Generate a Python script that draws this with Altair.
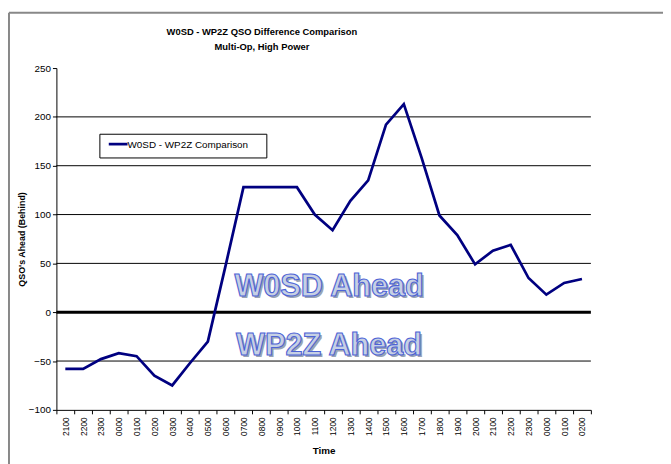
import altair as alt
import pandas as pd

# ---- data ----
time_labels = ["2100", "2200", "2300", "0000", "0100", "0200", "0300", "0400", "0500", "0600",
               "0700", "0800", "0900", "1000", "1100", "1200", "1300", "1400", "1500", "1600",
               "1700", "1800", "1900", "2000", "2100", "2200", "2300", "0000", "0100", "0200"]
diff_values = [-58, -58, -48, -42, -45, -65, -75, -52, -30, 48,
               128, 128, 128, 128, 100, 84, 114, 135, 192, 213,
               158, 99, 79, 49, 63, 69, 35, 18, 30, 34]
series_name = "W0SD - WP2Z Comparison"
title_line1 = "W0SD - WP2Z QSO Difference Comparison"
title_line2 = "Multi-Op, High Power"
y_ticks = [-100, -50, 0, 50, 100, 150, 200, 250]
grid_values = [-50, 50, 100, 150, 200]
ann_text = ["W0SD Ahead", "WP2Z Ahead"]
ann_y = [17, -44]

keys = [f"{i:02d}|{t}" for i, t in enumerate(time_labels)]
df = pd.DataFrame({"key": keys, "value": diff_values})
grid_df = pd.DataFrame({"value": grid_values})
zero_df = pd.DataFrame({"value": [0]})
ann_df = pd.DataFrame({"t": ann_text, "value": ann_y})
one = pd.DataFrame({"k": [0]})

W, H = 541, 346
BASE = "Liberation Sans"
NAVY = "#000080"

xscale = alt.Scale(type="band", paddingInner=0, paddingOuter=0, domain=keys)
yscale = alt.Scale(domain=[-100, 250], nice=False, zero=False)
yaxis = alt.Axis(
    title="QSO's Ahead (Behind)", titleFont=BASE, titleFontSize=9,
    titleFontWeight="bold", titleColor="black", titlePadding=2,
    values=y_ticks, labelFont=BASE, labelFontSize=10, labelColor="black",
    labelPadding=2, tickSize=4, tickColor="black", domainColor="black",
    grid=False,
)

x_enc = alt.X(
    "key:O", scale=xscale, sort=keys, bandPosition=0.5,
    axis=alt.Axis(
        title="Time", titleFont=BASE, titleFontSize=10, titleFontWeight="bold",
        titleColor="black", titlePadding=10,
        labelExpr="split(datum.value, '|')[1]", labelAngle=-90, labelFont=BASE,
        labelFontSize=8.5, labelColor="black", labelPadding=3,
        tickBand="extent", tickSize=4, tickColor="black", domainColor="black",
        domainWidth=1, grid=False, labelOverlap=False,
    ),
)
y_enc = alt.Y("value:Q", scale=yscale, axis=yaxis)

grid = alt.Chart(grid_df).mark_rule(color="black", strokeWidth=1).encode(y=y_enc)
zero = alt.Chart(zero_df).mark_rule(color="black", strokeWidth=3).encode(y=y_enc)

line = alt.Chart(df).mark_line(strokeWidth=2.75, color=NAVY).encode(x=x_enc, y=y_enc)

ann_shadow = alt.Chart(ann_df).mark_text(
    font=BASE, fontSize=31, fontWeight="bold", align="center",
    baseline="alphabetic", color="#9aa3b5", dx=2, dy=2,
).encode(x=alt.value(276), y=y_enc, text="t:N")
ann = alt.Chart(ann_df).mark_text(
    font=BASE, fontSize=31, fontWeight="bold", align="center",
    baseline="alphabetic", color="#c6d0e4", stroke="#4d63d6", strokeWidth=1.1,
).encode(x=alt.value(276), y=y_enc, text="t:N")

# legend box (decoration)
leg_df = pd.DataFrame({"label": [series_name]})
leg_box = alt.Chart(leg_df).mark_rect(fill="white", stroke="black", strokeWidth=1).encode(
    x=alt.value(44), x2=alt.value(213), y=alt.value(67), y2=alt.value(91)
)
leg_line = alt.Chart(leg_df).mark_rule(color=NAVY, strokeWidth=2.75).encode(
    x=alt.value(53), x2=alt.value(72), y=alt.value(77)
)
leg_text = alt.Chart(leg_df).mark_text(
    font=BASE, fontSize=10, align="left", baseline="middle", color="black"
).encode(x=alt.value(72), y=alt.value(78), text="label:N")

# title (two lines)
title_df = pd.DataFrame({"l1": [title_line1], "l2": [title_line2]})
title1 = alt.Chart(title_df).mark_text(
    font=BASE, fontSize=9.5, fontWeight="bold", align="center",
    baseline="alphabetic", color="black",
).encode(x=alt.value(208), y=alt.value(-33), text="l1:N")
title2 = alt.Chart(title_df).mark_text(
    font=BASE, fontSize=9.5, fontWeight="bold", align="center",
    baseline="alphabetic", color="black",
).encode(x=alt.value(208), y=alt.value(-18.5), text="l2:N")

frame_top = alt.Chart(one).mark_rule(color="#888888", strokeWidth=2).encode(
    x=alt.value(-48), x2=alt.value(W + 80), y=alt.value(-56)
)
frame_left = alt.Chart(one).mark_rule(color="#888888", strokeWidth=2).encode(
    x=alt.value(-48), y=alt.value(-56), y2=alt.value(H + 60)
)

chart = alt.layer(
    frame_top, frame_left, grid, ann_shadow, ann, zero, line,
    leg_box, leg_line, leg_text, title1, title2
).properties(
    width=W, height=H,
    autosize=alt.AutoSizeParams(type="none"),
    padding={"left": 49, "top": 58, "right": 73, "bottom": 52},
).configure(background="white").configure_view(stroke=None, strokeWidth=0)

chart.save("out.html", embed_options={"renderer": "svg", "actions": False})
